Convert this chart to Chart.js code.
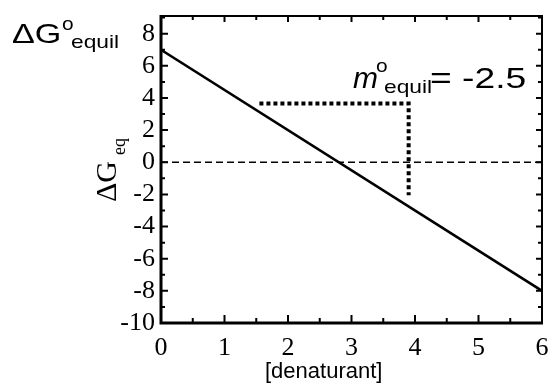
<!DOCTYPE html>
<html>
<head>
<meta charset="utf-8">
<script src="https://cdn.jsdelivr.net/npm/chart.js@4/dist/chart.umd.min.js"></script>
<style>
  html, body { margin: 0; padding: 0; background: #fff; }
  #wrap { width: 552px; height: 387px; }
</style>
</head>
<body>
<div id="wrap"><canvas id="chart" width="552" height="387"></canvas></div>
<script>
// free energy vs denaturant, linear extrapolation
const lineX = [0, 6];
const lineY = [7, -8];

// reference line at zero
const zeroX = [0, 6];
const zeroY = [0, 0];

// slope triangle
const slopeX = [1.55, 3.9, 3.9];
const slopeY = [3.65, 3.65, -2.05];

const xTicks = [0, 1, 2, 3, 4, 5, 6];
const yTicks = [-10, -8, -6, -4, -2, 0, 2, 4, 6, 8];
const xMinor = [0.5, 1.5, 2.5, 3.5, 4.5, 5.5];
const yMinor = [-9, -7, -5, -3, -1, 1, 3, 5, 7, 9];

const SANS = '"Liberation Sans", Arial, sans-serif';
const SERIF = '"Liberation Serif", "Times New Roman", serif';

const pts = (xs, ys) => xs.map((x, i) => ({ x, y: ys[i] }));

// horizontally stretched text
function stretchText(ctx, str, x, y, font, sx = 1.2) {
  ctx.save();
  ctx.font = font;
  ctx.translate(x, y);
  ctx.scale(sx, 1);
  ctx.fillText(str, 0, 0);
  ctx.restore();
}

const frameAndLabels = {
  id: 'frameAndLabels',
  afterDraw(chart) {
    const { ctx, chartArea: a, scales: { x, y } } = chart;
    ctx.save();
    ctx.strokeStyle = '#000';
    ctx.fillStyle = '#000';
    ctx.lineCap = 'butt';

    // inward ticks on all four sides
    ctx.lineWidth = 2;
    ctx.beginPath();
    xTicks.concat(xMinor).forEach(v => {
      const px = x.getPixelForValue(v);
      const major = xTicks.includes(v);
      ctx.moveTo(px, a.bottom); ctx.lineTo(px, a.bottom - (major ? 8 : 5));
      ctx.moveTo(px, a.top); ctx.lineTo(px, a.top + (major ? 6 : 4));
    });
    yTicks.concat(yMinor).forEach(v => {
      const py = y.getPixelForValue(v);
      const major = yTicks.includes(v);
      ctx.moveTo(a.left, py); ctx.lineTo(a.left + (major ? 7 : 4), py);
      ctx.moveTo(a.right, py); ctx.lineTo(a.right - (major ? 6 : 4), py);
    });
    ctx.stroke();

    // frame: heavier left and bottom
    ctx.lineWidth = 2;
    ctx.beginPath();
    ctx.moveTo(a.left, a.top); ctx.lineTo(a.right, a.top); ctx.lineTo(a.right, a.bottom);
    ctx.stroke();
    ctx.lineWidth = 3;
    ctx.beginPath();
    ctx.moveTo(a.left, a.top - 1); ctx.lineTo(a.left, a.bottom); ctx.lineTo(a.right + 1, a.bottom);
    ctx.stroke();

    ctx.textAlign = 'left';
    ctx.textBaseline = 'alphabetic';

    // corner label
    stretchText(ctx, 'ΔG', 12, 43, '28px ' + SANS, 1.22);
    stretchText(ctx, 'o', 62, 30, '19px ' + SANS, 1.1);
    stretchText(ctx, 'equil', 71, 48, '19px ' + SANS, 1.2);

    // slope annotation
    stretchText(ctx, 'm', 353, 88, 'italic 30px ' + SANS, 1.0);
    stretchText(ctx, 'o', 376, 72, '19px ' + SANS, 1.1);
    stretchText(ctx, 'equil', 384, 93, '19px ' + SANS, 1.2);
    stretchText(ctx, '= -2.5', 430, 88, '30px ' + SANS, 1.24);

    // x axis title
    stretchText(ctx, '[denaturant]', 265, 378, '22px ' + SANS, 1.0);

    // y axis title, rotated
    ctx.save();
    ctx.translate(116, 202);
    ctx.rotate(-Math.PI / 2);
    ctx.font = '30px ' + SERIF;
    ctx.fillText('ΔG', 0, 0);
    const w = ctx.measureText('ΔG').width;
    ctx.font = '18px ' + SERIF;
    ctx.fillText('eq', w + 6, 9);
    ctx.restore();

    ctx.restore();
  }
};

new Chart(document.getElementById('chart'), {
  type: 'scatter',
  data: {
    datasets: [
      {
        data: pts(lineX, lineY),
        showLine: true,
        borderColor: '#000',
        borderWidth: 2.5,
        pointRadius: 0
      },
      {
        data: pts(zeroX, zeroY),
        showLine: true,
        borderColor: '#000',
        borderWidth: 1.5,
        borderDash: [7, 4],
        pointRadius: 0
      },
      {
        data: pts(slopeX, slopeY),
        showLine: true,
        borderColor: '#000',
        borderWidth: 4,
        borderDash: [4, 3],
        borderCapStyle: 'butt',
        pointRadius: 0
      }
    ]
  },
  options: {
    responsive: false,
    animation: false,
    events: [],
    layout: { padding: { left: 0, right: 10, top: 16, bottom: 0 } },
    plugins: {
      legend: { display: false },
      tooltip: { enabled: false }
    },
    scales: {
      x: {
        type: 'linear',
        min: 0,
        max: 6,
        afterBuildTicks: s => { s.ticks = xTicks.map(v => ({ value: v })); },
        afterFit: s => { s.height = 64; s.paddingLeft = 0; s.paddingRight = 0; },
        grid: { display: false, drawTicks: false },
        border: { display: false },
        ticks: {
          color: '#000',
          padding: 10,
          maxRotation: 0,
          autoSkip: false,
          font: { family: SERIF, size: 26 }
        }
      },
      y: {
        type: 'linear',
        min: -10,
        max: 9.1,
        afterBuildTicks: s => { s.ticks = yTicks.map(v => ({ value: v })); },
        afterFit: s => { s.width = 161; s.paddingTop = 0; s.paddingBottom = 0; },
        grid: { display: false, drawTicks: false },
        border: { display: false },
        ticks: {
          color: '#000',
          padding: 6,
          autoSkip: false,
          font: { family: SERIF, size: 26 }
        }
      }
    }
  },
  plugins: [frameAndLabels]
});
</script>
</body>
</html>
